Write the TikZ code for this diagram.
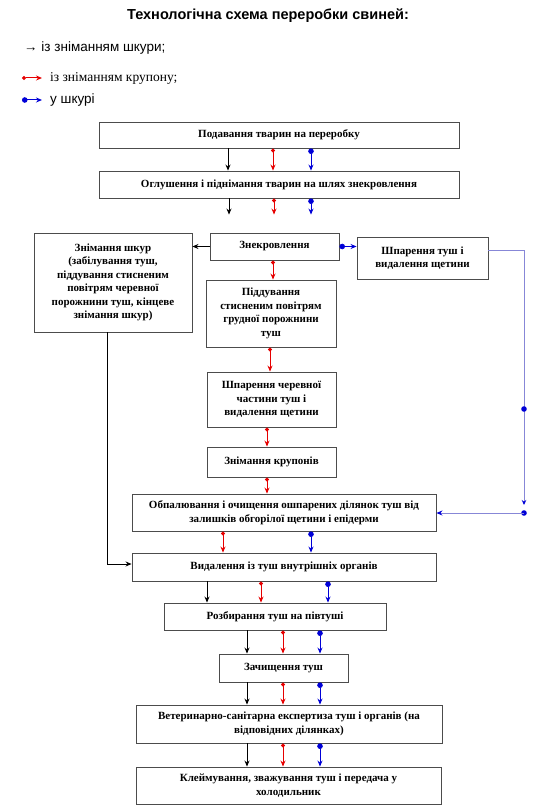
\documentclass[tikz,border=0pt]{standalone}
\usepackage{fontspec}
\setmainfont{Liberation Serif}
\setsansfont{Liberation Sans}
\usetikzlibrary{arrows.meta, positioning}
\definecolor{flowred}{RGB}{230,0,0}
\definecolor{flowblue}{RGB}{0,0,215}
\definecolor{paleblue}{RGB}{135,135,215}
\tikzstyle{block} = [rectangle, draw=black!70, line width=0.9pt, fill=white, align=center, inner sep=1pt, font=\fontsize{11}{13.5}\selectfont\bfseries]
\tikzstyle{skinarrow} = [line width=0.8pt, -{Stealth[length=6pt,width=5pt]}]
\tikzstyle{crouparrow} = [flowred, line width=0.8pt, {Circle[length=4pt]}-{Stealth[length=6pt,width=5pt]}]
\tikzstyle{hidearrow} = [flowblue, line width=0.8pt, {Circle[length=5.5pt]}-{Stealth[length=6pt,width=5pt]}]
\tikzstyle{legend} = [anchor=west, inner sep=0pt, font=\sffamily\fontsize{13.5}{15}\selectfont]

% three parallel flows (black, red, blue) between two blocks
\newcommand{\flowset}[5]{%
  \coordinate (xk) at (#3,0); \draw[skinarrow] (#1.south -| xk) -- (#2.north -| xk);
  \coordinate (xr) at (#4,0); \draw[crouparrow] (#1.south -| xr) -- (#2.north -| xr);
  \coordinate (xb) at (#5,0); \draw[hidearrow] (#1.south -| xb) -- (#2.north -| xb);}

\begin{document}
\begin{tikzpicture}[x=1pt, y=-1pt]
        \useasboundingbox (0,0) rectangle (538,810);

        % Title and legend
        \node (title) at (268,16) [font=\sffamily\bfseries\fontsize{14.5}{16}\selectfont] {Технологічна схема переробки свиней:};
        \node (legskin) at (24,48) [legend] {→ із зніманням шкури;};
        \node (legcroup) at (50,78) [legend, font=\rmfamily\fontsize{13.5}{15}\selectfont] {із зніманням крупону;};
        \node (leghide) at (50,100) [legend] {у шкурі};
        \coordinate (lr) at (22,78);
        \coordinate (lb) at (22,100);
        \draw[crouparrow, line width=1pt] (lr) -- ([xshift=-8pt]legcroup.west);
        \draw[hidearrow, line width=1pt] (lb) -- ([xshift=-8pt]leghide.west);

        % Main blocks
        \node (feed) at (279,135) [block, minimum width=360, minimum height=26] {Подавання тварин на переробку};
        \node (stun) at (279,184.5) [block, minimum width=360, minimum height=27] {Оглушення і піднімання тварин на шлях знекровлення};
        \node (bleed) at (274.5,246.5) [block, minimum width=129, minimum height=27] {Знекровлення};
        \node (skin) at (113,282.5) [block, minimum width=158, minimum height=99] {Знімання шкур\\(забілування туш,\\піддування стисненим\\повітрям черевної\\порожнини туш, кінцеве\\знімання шкур)};
        \node (scald) at (422.5,258) [block, minimum width=131, minimum height=42] {Шпарення туш і\\видалення щетини};
        \node (blow) at (271,313.5) [block, minimum width=130, minimum height=67] {Піддування\\стисненим повітрям\\грудної порожнини\\туш};
        \node (belly) at (271.5,399.5) [block, minimum width=129, minimum height=55] {Шпарення черевної\\частини туш і\\видалення щетини};
        \node (croupon) at (271.5,462) [block, minimum width=129, minimum height=30] {Знімання крупонів};
        \node (singe) at (284,512.5) [block, minimum width=304, minimum height=37] {Обпалювання і очищення ошпарених ділянок туш від\\залишків обгорілої щетини і епідерми};
        \node (gut) at (284,567) [block, minimum width=304, minimum height=28] {Видалення із туш внутрішніх органів};
        \node (split) at (275,616.5) [block, minimum width=222, minimum height=27] {Розбирання туш на півтуші};
        \node (trim) at (283.5,668) [block, minimum width=129, minimum height=28] {Зачищення туш};
        \node (vet) at (289,724) [block, minimum width=306, minimum height=38] {Ветеринарно-санітарна експертиза туш і органів (на\\відповідних ділянках)};
        \node (brand) at (288.5,785.5) [block, minimum width=305, minimum height=37] {Клеймування, зважування туш і передача у\\холодильник};

        % Flows down the top
        \flowset{feed}{stun}{228}{273}{311}
        \coordinate (xk) at (229,0); \draw[skinarrow, shorten >=18pt] (stun.south -| xk) -- (bleed.north -| xk);
        \coordinate (xr) at (274,0); \draw[crouparrow, shorten >=18pt] (stun.south -| xr) -- (bleed.north -| xr);
        \coordinate (xb) at (311,0); \draw[hidearrow, shorten >=18pt] (stun.south -| xb) -- (bleed.north -| xb);

        % Branches after bleeding
        \draw[skinarrow] (bleed.west) -- (skin.east |- bleed.west);
        \draw[hidearrow] (bleed.east) -- (scald.west |- bleed.east);
        \coordinate (xr) at (273,0); \draw[crouparrow] (bleed.south -| xr) -- (blow.north -| xr);
        \coordinate (xr) at (270,0); \draw[crouparrow] (blow.south -| xr) -- (belly.north -| xr);
        \coordinate (xr) at (267,0); \draw[crouparrow] (belly.south -| xr) -- (croupon.north -| xr);
        \draw[crouparrow] (croupon.south -| xr) -- (singe.north -| xr);

        % Scalded carcasses back to singeing
        \coordinate (bend) at (524,505);
        \coordinate (dotmid) at (524,409);
        \coordinate (dotlow) at (524,513);
        \draw[paleblue, line width=0.9pt, -{Stealth[flowblue,length=5pt,width=4.5pt]}] ([yshift=8pt]scald.east) -| (bend);
        \fill[flowblue] (dotmid) circle (2.8pt);
        \fill[flowblue] (dotlow) circle (2.8pt);
        \draw[paleblue, line width=0.9pt, -{Stealth[flowblue,length=6pt,width=5pt]}] (dotlow) -- (singe.east |- dotlow);

        % Towards evisceration
        \coordinate (xr) at (223,0); \draw[crouparrow] (singe.south -| xr) -- (gut.north -| xr);
        \coordinate (xb) at (311,0); \draw[hidearrow] (singe.south -| xb) -- (gut.north -| xb);
        \draw[skinarrow] ([xshift=-6pt]skin.south) |- ([yshift=3pt]gut.west);

        % Flows down the bottom
        \flowset{gut}{split}{207}{261}{328}
        \flowset{split}{trim}{247}{283}{320}
        \flowset{trim}{vet}{247}{283}{320}
        \flowset{vet}{brand}{247}{283}{320}

    \end{tikzpicture}
\end{document}
